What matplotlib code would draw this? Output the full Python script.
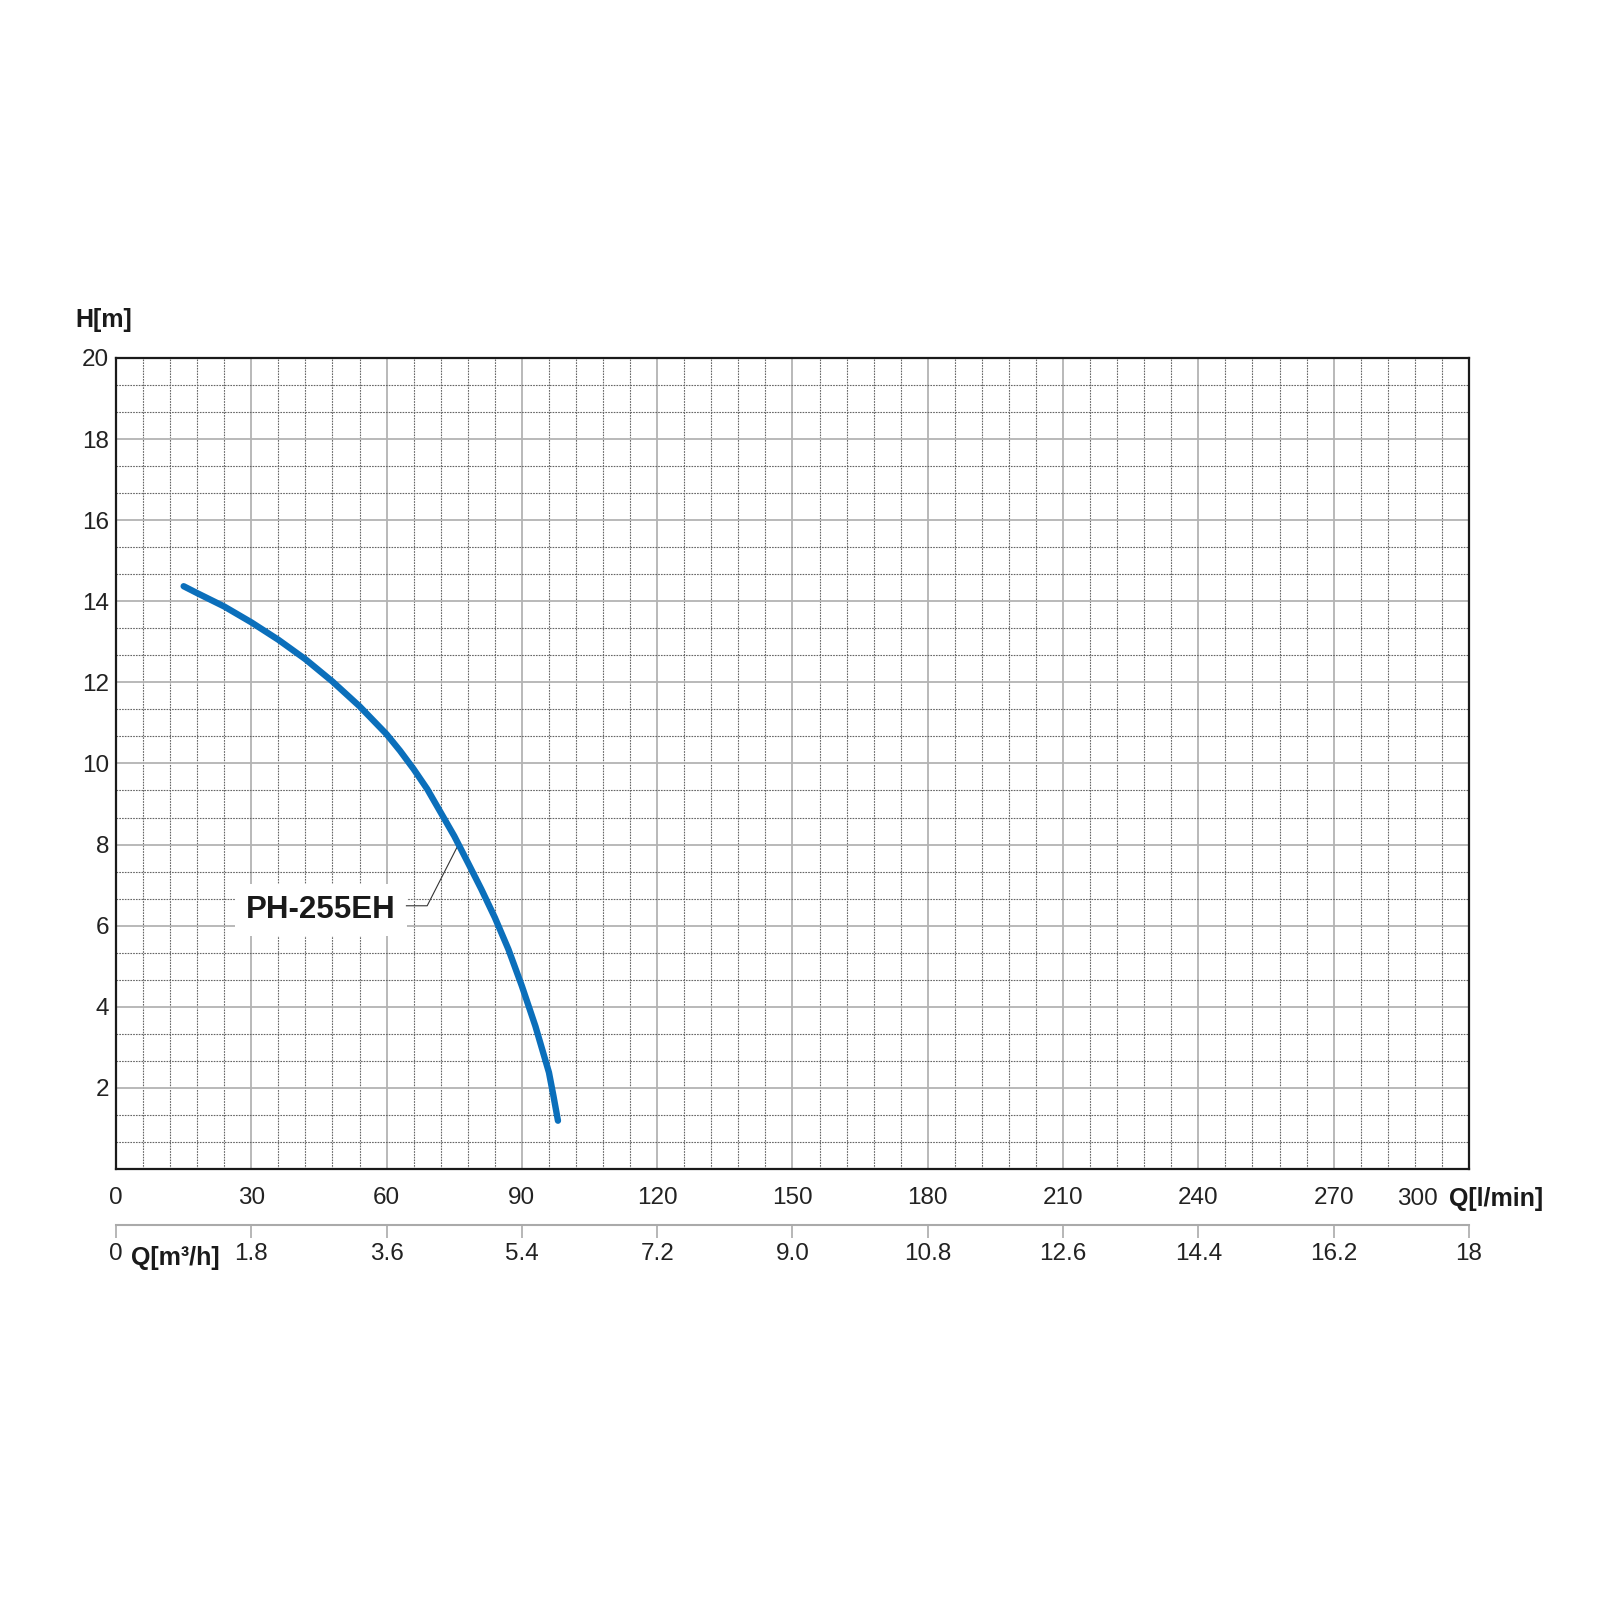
import matplotlib
matplotlib.use("Agg")
import matplotlib.pyplot as plt
from matplotlib.ticker import MultipleLocator

plt.rcParams['font.family'] = ['Liberation Sans', 'DejaVu Sans']

# pump curve PH-255EH (Q in l/min, H in m)
q_lmin = [15, 18, 24, 30, 36, 42, 48, 54, 60, 63, 66, 69, 72, 75, 78, 81, 84, 87, 90, 93, 96, 97, 98]
h_m = [14.37, 14.20, 13.87, 13.48, 13.05, 12.57, 12.02, 11.41, 10.72, 10.31, 9.86, 9.37,
       8.79, 8.21, 7.56, 6.90, 6.20, 5.42, 4.51, 3.52, 2.38, 1.80, 1.19]
model = "PH-255EH"

x_ticks = [0, 30, 60, 90, 120, 150, 180, 210, 240, 270]
y_ticks = [2, 4, 6, 8, 10, 12, 14, 16, 18, 20]
m3h_ticks = [0, 1.8, 3.6, 5.4, 7.2, 9.0, 10.8, 12.6, 14.4, 16.2, 18]
m3h_labels = ['0', '1.8', '3.6', '5.4', '7.2', '9.0', '10.8', '12.6', '14.4', '16.2', '18']

# leader from curve to label (l/min, m)
leader_q = [75.6, 69.0, 64.4]
leader_h = [7.93, 6.49, 6.49]

fig = plt.figure(figsize=(16, 16), dpi=100)
ax = fig.add_axes([0.0725, 0.2694, 0.8456, 0.5069])
ax.set_xlim(0, 300)
ax.set_ylim(0, 20)

ax.xaxis.set_minor_locator(MultipleLocator(6))
ax.yaxis.set_minor_locator(MultipleLocator(2 / 3))
ax.set_xticks(x_ticks + [300])
ax.set_xticklabels([str(v) for v in x_ticks] + [''])
ax.set_yticks([0] + y_ticks)
ax.set_yticklabels([''] + [str(v) for v in y_ticks])

ax.grid(which='major', color='#b3b3b3', linewidth=1.3, linestyle='-')
ax.grid(which='minor', color='#666666', linewidth=0.8, linestyle=(0, (1.5, 1)))
ax.set_axisbelow(True)
ax.tick_params(which='both', length=0)
ax.tick_params(axis='x', labelsize=17.5, pad=13, colors='#222222')
ax.tick_params(axis='y', labelsize=17.5, pad=5, colors='#222222')
for s in ax.spines.values():
    s.set_color('#1a1a1a')
    s.set_linewidth(1.6)

ax.plot(q_lmin, h_m, color='#0b6fbb', linewidth=4.6, solid_capstyle='round',
        solid_joinstyle='round', zorder=5)

ax.plot(leader_q, leader_h, color='#333333', linewidth=0.8, zorder=4)
ax.text(45.5, 6.39, model, fontsize=22.5, fontweight='bold', color='#1a1a1a',
        ha='center', va='center', zorder=3,
        bbox=dict(facecolor='white', edgecolor='none', pad=8))

# second flow scale in m3/h
sec = ax.secondary_xaxis(-0.069, functions=(lambda q: q * 0.06, lambda m: m / 0.06))
sec.set_xticks(m3h_ticks)
sec.set_xticklabels(m3h_labels)
sec.tick_params(direction='out', length=9, width=1.2, color='#aaaaaa',
                labelsize=17.5, pad=4, labelcolor='#222222')
sec.spines['bottom'].set_color('#aaaaaa')
sec.spines['bottom'].set_linewidth(1.5)

fig.text(75 / 1600, 1 - 320 / 1600, 'H[m]', fontsize=18, fontweight='bold',
         color='#1a1a1a', ha='left', va='center')
fig.text(1438 / 1600, 1 - 1199 / 1600, '300', fontsize=17.5, color='#222222',
         ha='right', va='center')
fig.text(1449 / 1600, 1 - 1199 / 1600, 'Q[l/min]', fontsize=18, fontweight='bold',
         color='#1a1a1a', ha='left', va='center')
fig.text(131 / 1600, 1 - 1258 / 1600, 'Q[m³/h]', fontsize=18, fontweight='bold',
         color='#1a1a1a', ha='left', va='center')

fig.savefig('out.png', dpi=100, facecolor='white')
